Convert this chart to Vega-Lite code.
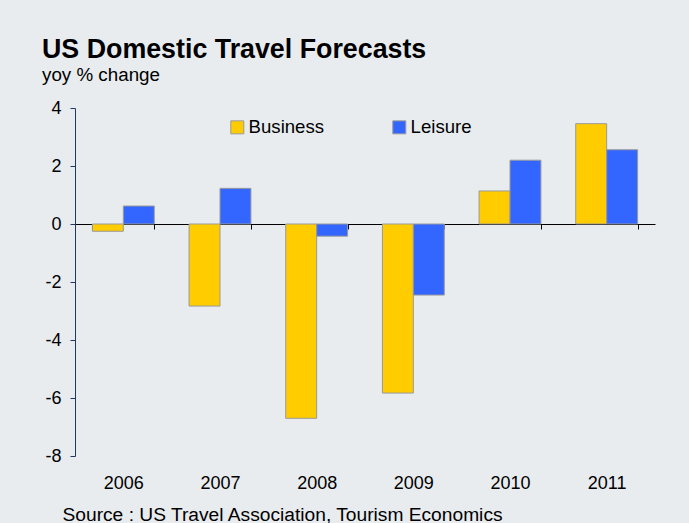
{
  "$schema": "https://vega.github.io/schema/vega-lite/v6.json",
  "width": 580,
  "height": 348,
  "autosize": {"type": "none"},
  "padding": {"left": 75, "top": 108, "right": 34, "bottom": 67},
  "background": "#e8ecee",
  "title": {
    "text": "US Domestic Travel Forecasts",
    "subtitle": "yoy % change",
    "anchor": "start",
    "frame": "group",
    "dx": -33,
    "offset": 14,
    "font": "Liberation Sans",
    "fontSize": 26.8,
    "fontWeight": "bold",
    "color": "#000000",
    "subtitleFont": "Liberation Sans",
    "subtitleFontSize": 18.8,
    "subtitleColor": "#000000",
    "subtitlePadding": 2
  },
  "data": {
    "values": [
      {"year": "2006", "series": "Business", "value": -0.25},
      {"year": "2006", "series": "Leisure", "value": 0.62},
      {"year": "2007", "series": "Business", "value": -2.83},
      {"year": "2007", "series": "Leisure", "value": 1.23},
      {"year": "2008", "series": "Business", "value": -6.7},
      {"year": "2008", "series": "Leisure", "value": -0.42},
      {"year": "2009", "series": "Business", "value": -5.83},
      {"year": "2009", "series": "Leisure", "value": -2.45},
      {"year": "2010", "series": "Business", "value": 1.14},
      {"year": "2010", "series": "Leisure", "value": 2.2},
      {"year": "2011", "series": "Business", "value": 3.46},
      {"year": "2011", "series": "Leisure", "value": 2.56}
    ]
  },
  "mark": {"type": "bar", "stroke": "#999999", "strokeWidth": 1},
  "encoding": {
    "x": {
      "field": "year",
      "type": "nominal",
      "scale": {"paddingInner": 0.36, "paddingOuter": 0.18},
      "axis": {
        "title": "Source : US Travel Association, Tourism Economics",
        "labelAngle": 0,
        "offset": -232,
        "tickBand": "extent",
        "tickSize": 5,
        "tickColor": "#000000",
        "domainColor": "#000000",
        "labelPadding": 245,
        "labelFont": "Liberation Sans",
        "labelFontSize": 18,
        "labelColor": "#000000",
        "titleFont": "Liberation Sans",
        "titleFontSize": 19.2,
        "titleFontWeight": "normal",
        "titleColor": "#000000",
        "titleAnchor": "start",
        "titleAlign": "left",
        "titleBaseline": "alphabetic",
        "titleX": -13,
        "titleY": 296
      }
    },
    "xOffset": {"field": "series", "sort": ["Business", "Leisure"]},
    "y": {
      "field": "value",
      "type": "quantitative",
      "scale": {"domain": [-8, 4], "nice": false},
      "axis": {
        "title": null,
        "values": [-8, -6, -4, -2, 0, 2, 4],
        "labelExpr": "'' + datum.value",
        "grid": false,
        "domainColor": "#1f3864",
        "tickColor": "#1f3864",
        "tickSize": 5,
        "labelPadding": 9,
        "labelFont": "Liberation Sans",
        "labelFontSize": 18,
        "labelColor": "#000000"
      }
    },
    "color": {
      "field": "series",
      "type": "nominal",
      "scale": {"domain": ["Business", "Leisure"], "range": ["#FFCC00", "#3366FF"]},
      "legend": {
        "title": null,
        "orient": "none",
        "legendX": 153,
        "legendY": 10,
        "direction": "horizontal",
        "symbolType": "square",
        "symbolSize": 169,
        "symbolStrokeColor": "#999999",
        "symbolStrokeWidth": 1,
        "symbolOpacity": 1,
        "labelFont": "Liberation Sans",
        "labelFontSize": 18.6,
        "labelColor": "#000000",
        "labelOffset": 2,
        "columnPadding": 65
      }
    }
  },
  "config": {"view": {"stroke": null}}
}
